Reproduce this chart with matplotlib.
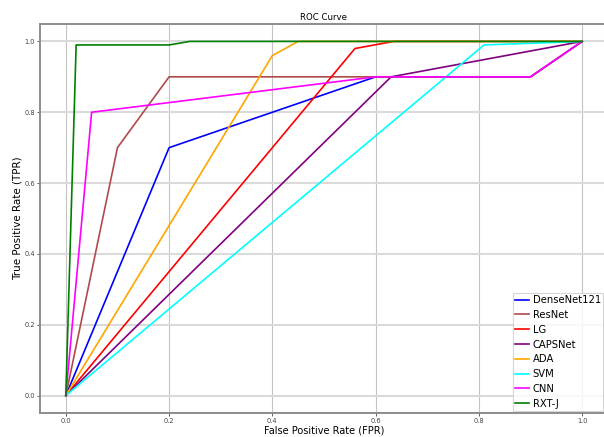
import matplotlib
matplotlib.use("Agg")
import matplotlib.pyplot as plt

# ROC points
models = ['DenseNet121', 'ResNet', 'LG', 'CAPSNet', 'ADA', 'SVM', 'CNN', 'RXT-J']
colors = ['blue', '#b04a4a', 'red', 'purple', 'orange', 'cyan', 'magenta', 'green']

densenet_fpr = [0.0, 0.2, 0.6, 0.9, 1.0]
densenet_tpr = [0.0, 0.7, 0.9, 0.9, 1.0]
resnet_fpr = [0.0, 0.1, 0.2, 0.9, 1.0]
resnet_tpr = [0.0, 0.7, 0.9, 0.9, 1.0]
lg_fpr = [0.0, 0.56, 0.635, 1.0]
lg_tpr = [0.0, 0.98, 1.0, 1.0]
caps_fpr = [0.0, 0.63, 1.0]
caps_tpr = [0.0, 0.9, 1.0]
ada_fpr = [0.0, 0.4, 0.45, 1.0]
ada_tpr = [0.0, 0.96, 1.0, 1.0]
svm_fpr = [0.0, 0.81, 1.0]
svm_tpr = [0.0, 0.99, 1.0]
cnn_fpr = [0.0, 0.05, 0.6, 0.9, 1.0]
cnn_tpr = [0.0, 0.8, 0.9, 0.9, 1.0]
rxt_fpr = [0.0, 0.02, 0.2, 0.24, 1.0]
rxt_tpr = [0.0, 0.99, 0.99, 1.0, 1.0]

curves = [(densenet_fpr, densenet_tpr), (resnet_fpr, resnet_tpr),
          (lg_fpr, lg_tpr), (caps_fpr, caps_tpr), (ada_fpr, ada_tpr),
          (svm_fpr, svm_tpr), (cnn_fpr, cnn_tpr), (rxt_fpr, rxt_tpr)]

fig = plt.figure(figsize=(6.04, 4.37), dpi=100)
# axes runs a bit past the right edge, like the cropped original
ax = fig.add_axes([40 / 604, 23.7 / 437, 568 / 604, 389.6 / 437])

for (fpr, tpr), name, c in zip(curves, models, colors):
    ax.plot(fpr, tpr, color=c, lw=1.2, label=name)

ax.set_xlim(-0.05, 1.05)
ax.set_ylim(-0.05, 1.05)
ax.set_xticks([0.0, 0.2, 0.4, 0.6, 0.8, 1.0])
ax.set_yticks([0.0, 0.2, 0.4, 0.6, 0.8, 1.0])
ax.tick_params(labelsize=4.8, colors='#444444', length=2, width=0.6, pad=1.5)

ax.grid(axis='x', color='#c4c4c4', lw=0.8)
ax.grid(axis='y', color='#dadada', lw=1.5)
ax.set_axisbelow(True)
for s in ax.spines.values():
    s.set_color('#8c8c8c')
    s.set_linewidth(1.4)

ax.set_title('ROC Curve', fontsize=6.2, pad=3)
ax.set_xlabel('False Positive Rate (FPR)', fontsize=7.0)
ax.set_ylabel('True Positive Rate (TPR)', fontsize=7.5)
ax.xaxis.set_label_coords(0.5, -0.032)
ax.yaxis.set_label_coords(-0.03, 0.5)

leg = ax.legend(loc='lower left', bbox_to_anchor=(513 / 604, 26.3 / 437),
                bbox_transform=fig.transFigure, borderaxespad=0,
                fontsize=7.2, labelspacing=0.48, handlelength=1.4,
                handletextpad=0.35, borderpad=0.2, fancybox=False)
leg.get_frame().set_edgecolor('#cccccc')
leg.get_frame().set_linewidth(0.8)

fig.savefig('out.png', dpi=100)
